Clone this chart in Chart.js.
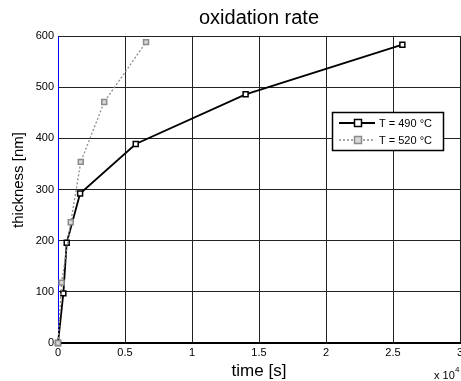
<!DOCTYPE html>
<html>
<head>
<meta charset="utf-8">
<script src="https://cdn.jsdelivr.net/npm/chart.js@4.4.1/dist/chart.umd.min.js"></script>
<style>
  html, body { margin: 0; padding: 0; background: #fff; overflow: hidden; }
  #wrap { width: 461px; height: 381px; overflow: hidden; position: relative; }
  #chart { position: absolute; left: 0; top: 0; }
</style>
</head>
<body>
<div id="wrap"><canvas id="chart" width="475" height="381"></canvas></div>
<script>
// Data (time in seconds, thickness in nm)
const time490  = [0, 400, 650, 1650, 5800, 14000, 25700];
const thick490 = [0, 97, 196, 292, 389, 486, 583];
const time520  = [0, 270, 950, 1700, 3450, 6570];
const thick520 = [0, 118, 236, 354, 471, 588];

const seriesLabels = ['T = 490 °C', 'T = 520 °C'];
const xTicks = [0, 5000, 10000, 15000, 20000, 25000, 30000];
const yTicks = [0, 100, 200, 300, 400, 500, 600];

const FONT = '"Liberation Sans", Arial, Helvetica, sans-serif';

const toPoints = (xs, ys) => xs.map((x, i) => ({ x, y: ys[i] }));

// Title, axis labels, exponent and legend drawn in matlab style
const decorations = {
  id: 'decorations',
  afterDraw(chart) {
    const { ctx, chartArea: a } = chart;
    const cx = (a.left + a.right) / 2;
    ctx.save();
    ctx.fillStyle = '#000';
    ctx.textAlign = 'center';
    ctx.textBaseline = 'middle';

    ctx.font = `20px ${FONT}`;
    ctx.fillText('oxidation rate', cx, 18);

    ctx.font = `17px ${FONT}`;
    ctx.fillText('time [s]', cx, 371);

    ctx.save();
    ctx.translate(19, 180);
    ctx.rotate(-Math.PI / 2);
    ctx.font = `15px ${FONT}`;
    ctx.fillText('thickness [nm]', 0, 0);
    ctx.restore();

    // x 10^4
    ctx.textAlign = 'left';
    ctx.font = `11px ${FONT}`;
    ctx.fillText('x 10', 434, 376);
    ctx.font = `8px ${FONT}`;
    ctx.fillText('4', 455, 370);

    // legend box
    const lx = 332, ly = 112, lw = 111, lh = 38;
    ctx.fillStyle = '#fff';
    ctx.fillRect(lx, ly, lw, lh);
    ctx.strokeStyle = '#000';
    ctx.lineWidth = 1.5;
    ctx.setLineDash([]);
    ctx.strokeRect(lx + 0.5, ly + 0.5, lw, lh);

    chart.data.datasets.forEach((ds, i) => {
      const y = ly + 11 + i * 17;
      ctx.strokeStyle = ds.borderColor;
      ctx.lineWidth = ds.borderWidth;
      ctx.setLineDash(ds.borderDash || []);
      ctx.beginPath();
      ctx.moveTo(339, y);
      ctx.lineTo(375, y);
      ctx.stroke();
      ctx.setLineDash([]);
      ctx.fillStyle = ds.pointBackgroundColor;
      ctx.strokeStyle = ds.pointBorderColor;
      ctx.lineWidth = ds.pointBorderWidth;
      ctx.fillRect(354.5, y - 3.5, 7, 7);
      ctx.strokeRect(354.5, y - 3.5, 7, 7);
      ctx.fillStyle = '#000';
      ctx.font = `11px ${FONT}`;
      ctx.textAlign = 'left';
      ctx.fillText(ds.label, 379, y + 1);
    });
    ctx.restore();
  }
};

new Chart(document.getElementById('chart'), {
  type: 'line',
  data: {
    datasets: [
      {
        label: seriesLabels[0],
        data: toPoints(time490, thick490),
        borderColor: '#000',
        borderWidth: 1.8,
        pointStyle: 'rect',
        pointRadius: 3.5,
        pointBorderColor: '#000',
        pointBackgroundColor: '#fff',
        pointBorderWidth: 1.5,
        tension: 0,
        clip: false,
        order: 1
      },
      {
        label: seriesLabels[1],
        data: toPoints(time520, thick520),
        borderColor: '#8c8c8c',
        borderWidth: 1.3,
        borderDash: [2, 2],
        pointStyle: 'rect',
        pointRadius: 3.5,
        pointBorderColor: '#8c8c8c',
        pointBackgroundColor: '#d8d8d8',
        pointBorderWidth: 1.5,
        tension: 0,
        clip: false,
        order: 0
      }
    ]
  },
  options: {
    responsive: false,
    animation: false,
    layout: { padding: { top: 36, right: 15, left: 0, bottom: 0 } },
    plugins: {
      legend: { display: false },
      title: { display: false },
      tooltip: { enabled: false }
    },
    scales: {
      x: {
        type: 'linear',
        min: xTicks[0],
        max: xTicks[xTicks.length - 1],
        afterBuildTicks: s => { s.ticks = xTicks.map(v => ({ value: v })); },
        afterFit: s => { s.height = 38; },
        ticks: {
          callback: v => String(v / 1e4),
          color: '#000',
          font: { family: FONT, size: 11 },
          padding: 3,
          maxRotation: 0
        },
        grid: { color: '#222', lineWidth: 1, drawTicks: false },
        border: { color: '#000', width: 2 }
      },
      y: {
        min: yTicks[0],
        max: yTicks[yTicks.length - 1],
        afterBuildTicks: s => { s.ticks = yTicks.map(v => ({ value: v })); },
        afterFit: s => { s.width = 58; },
        ticks: {
          color: '#000',
          font: { family: FONT, size: 11 },
          padding: 4
        },
        grid: { color: '#222', lineWidth: 1, drawTicks: false },
        border: { color: '#0000ff', width: 1 }
      }
    }
  },
  plugins: [decorations]
});
</script>
</body>
</html>
